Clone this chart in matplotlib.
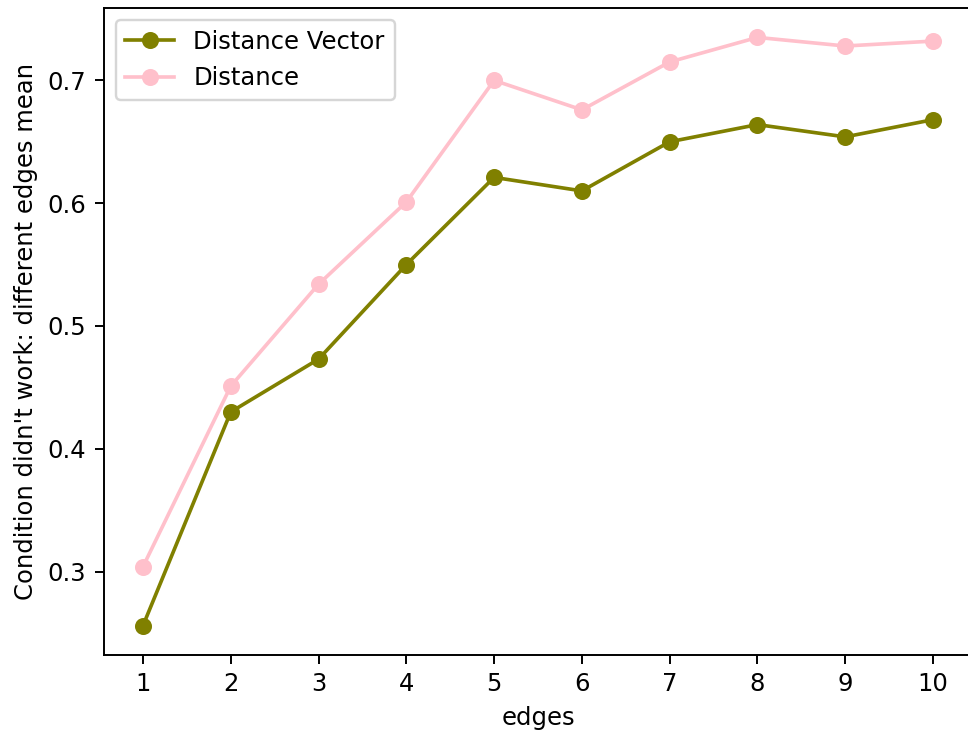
import matplotlib
matplotlib.use("Agg")
import matplotlib.pyplot as plt

edges = [1, 2, 3, 4, 5, 6, 7, 8, 9, 10]
distance_vector = [0.256, 0.430, 0.473, 0.550, 0.621, 0.610, 0.650, 0.664, 0.654, 0.668]
distance = [0.304, 0.451, 0.534, 0.601, 0.700, 0.676, 0.715, 0.735, 0.728, 0.732]

DPI = 175
fig = plt.figure(figsize=(968 / DPI, 735 / DPI), dpi=DPI)
ax = fig.add_axes([103.5 / 968, 1 - 655 / 735, (972.5 - 103.5) / 968, (655 - 8) / 735])

ax.plot(edges, distance_vector, marker="o", color="olive", label="Distance Vector")
ax.plot(edges, distance, marker="o", color="pink", label="Distance")

ax.set_xticks(edges)
ax.set_xlabel("edges")
ax.set_ylabel("Condition didn't work: different edges mean")
ax.legend(loc="upper left")
# the right border sits past the figure edge
ax.spines["right"].set_visible(False)

fig.savefig("out.png", dpi=DPI)
